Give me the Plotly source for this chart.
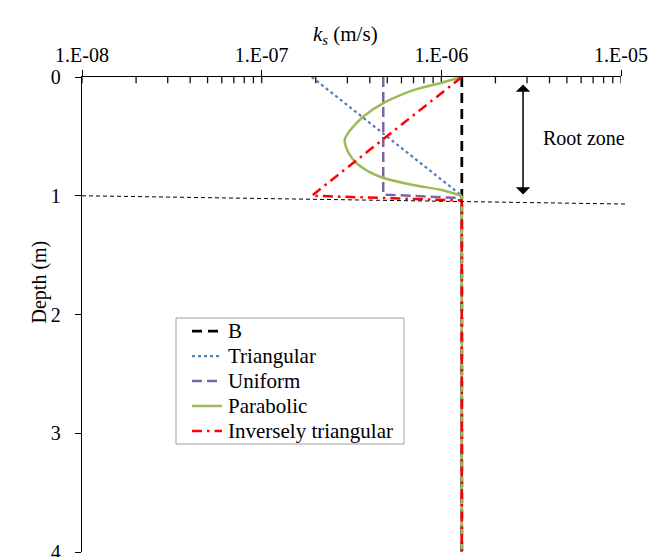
import math
import plotly.graph_objects as go

# Saturated hydraulic conductivity profiles, ks (m/s) versus depth (m)
SERIES_NAMES = ["B", "Triangular", "Uniform", "Parabolic", "Inversely triangular"]

B_DEPTH = [0.0, 4.0]
B_KS = [1.3e-6, 1.3e-6]

TRI_DEPTH = [0.0, 1.0, 4.0]
TRI_KS = [1.9e-7, 1.3e-6, 1.3e-6]

UNI_DEPTH = [0.0, 0.99, 1.02, 4.0]
UNI_KS = [4.75e-7, 4.75e-7, 1.3e-6, 1.3e-6]

PARA_DEPTH = [0.0, 0.05, 0.11, 0.22, 0.33, 0.45, 0.53, 0.64, 0.73, 0.84, 0.91, 0.95, 1.0, 4.0]
PARA_KS = [1.3e-6, 9.9e-7, 7.0e-7, 4.75e-7, 3.7e-7, 3.1e-7, 2.9e-7, 3.05e-7, 3.4e-7,
           4.55e-7, 7.0e-7, 9.9e-7, 1.3e-6, 1.3e-6]
PARA_CURVE_END = 12  # index where the curved root-zone part joins the vertical tail

INV_DEPTH = [0.0, 1.0, 1.04, 4.0]
INV_KS = [1.3e-6, 1.9e-7, 1.3e-6, 1.3e-6]

X_TICK_VALS = [1e-8, 1e-7, 1e-6, 1e-5]
X_TICK_TEXT = ["1.E-08", "1.E-07", "1.E-06", "1.E-05"]
Y_TICK_VALS = [0, 1, 2, 3, 4]

ROOT_ZONE_TOP = 0.05
ROOT_ZONE_BOTTOM = 0.99
ROOT_ARROW_KS = 2.85e-6
ROOT_LABEL_KS = 6.2e-6

FONT = "Liberation Serif"
W, H = 665, 557
ML, MR, MT, MB = 82, 44, 77, 5
PW, PH = W - ML - MR, H - MT - MB


def px_x(px):
    """Horizontal pixel position -> paper coordinate."""
    return (px - ML) / PW


def px_y(py):
    """Vertical pixel position -> paper coordinate."""
    return 1 - (py - MT) / PH


STYLES = [
    dict(color="black", width=2.75, dash="10px,6px"),
    dict(color="#4F81BD", width=2.25, dash="dot"),
    dict(color="#8064A2", width=2.5, dash="10px,5px"),
    dict(color="#9BBB59", width=2.5, dash="solid"),
    dict(color="#FF0000", width=2.5, dash="10px,5px,2.5px,5px"),
]

fig = go.Figure()

# short inward tick marks along the top axis: each decade and its 2..9 subdivisions.
# Markers sit on the axis line; clipping keeps only the half inside the plot.
INSIDE_X_TICKS = X_TICK_VALS + [m * 10.0 ** e for e in (-8, -7, -6) for m in range(2, 10)]
fig.add_trace(go.Scatter(
    x=INSIDE_X_TICKS, y=[0] * len(INSIDE_X_TICKS), mode="markers",
    marker=dict(symbol="line-ns-open", size=9, color="#111111",
                line=dict(color="#111111", width=1.3)),
    cliponaxis=True, showlegend=False, hoverinfo="skip",
))

fig.add_trace(go.Scatter(x=B_KS, y=B_DEPTH, name=SERIES_NAMES[0], mode="lines", line=STYLES[0]))
fig.add_trace(go.Scatter(x=TRI_KS, y=TRI_DEPTH, name=SERIES_NAMES[1], mode="lines", line=STYLES[1]))
fig.add_trace(go.Scatter(x=UNI_KS, y=UNI_DEPTH, name=SERIES_NAMES[2], mode="lines", line=STYLES[2]))
fig.add_trace(go.Scatter(
    x=PARA_KS[:PARA_CURVE_END + 1], y=PARA_DEPTH[:PARA_CURVE_END + 1],
    name=SERIES_NAMES[3], legendgroup=SERIES_NAMES[3], mode="lines",
    line=dict(STYLES[3], shape="spline", smoothing=0.9),
))
fig.add_trace(go.Scatter(
    x=PARA_KS[PARA_CURVE_END:], y=PARA_DEPTH[PARA_CURVE_END:],
    name=SERIES_NAMES[3], legendgroup=SERIES_NAMES[3], mode="lines",
    line=STYLES[3], showlegend=False,
))
fig.add_trace(go.Scatter(x=INV_KS, y=INV_DEPTH, name=SERIES_NAMES[4], mode="lines", line=STYLES[4]))

# thin dashed line marking the bottom of the root zone
fig.add_shape(type="line", xref="paper", yref="y",
              x0=0, y0=1.0, x1=px_x(627), y1=1.07,
              line=dict(color="black", width=1, dash="4px,3px"))

# double-headed arrow spanning the root zone
fig.add_annotation(
    x=math.log10(ROOT_ARROW_KS), y=ROOT_ZONE_BOTTOM,
    ax=math.log10(ROOT_ARROW_KS), ay=ROOT_ZONE_TOP,
    xref="x", yref="y", axref="x", ayref="y",
    text="", showarrow=True, arrowside="end+start",
    arrowhead=1, startarrowhead=1, arrowsize=1.6, startarrowsize=1.6,
    arrowwidth=1.5, arrowcolor="black",
)
fig.add_annotation(
    x=math.log10(ROOT_LABEL_KS), y=0.516, xref="x", yref="y",
    text="Root zone", showarrow=False,
    font=dict(family=FONT, size=20, color="black"),
)

# axis titles
fig.add_annotation(
    x=px_x(345), y=px_y(20), xref="paper", yref="paper",
    text="<i>k</i><sub><i>s</i></sub> (m/s)", showarrow=False,
    font=dict(family=FONT, size=21, color="black"),
)
fig.add_annotation(
    x=px_x(25), y=px_y(282), xref="paper", yref="paper",
    text="Depth (m)", textangle=-90, showarrow=False,
    font=dict(family=FONT, size=20, color="black"),
)

# legend box with line samples and labels
LEG_LEFT, LEG_RIGHT, LEG_TOP, LEG_BOTTOM = 176, 404, 318, 444
LEG_ROW0, LEG_ROW_STEP = 331, 25
LEG_SAMPLE_X0, LEG_SAMPLE_X1, LEG_TEXT_X = 192, 222, 226
fig.add_shape(type="rect", xref="paper", yref="paper",
              x0=px_x(LEG_LEFT), x1=px_x(LEG_RIGHT),
              y0=px_y(LEG_BOTTOM), y1=px_y(LEG_TOP),
              line=dict(color="#A0A0A0", width=1), fillcolor="white", layer="above")
for i, (name, style) in enumerate(zip(SERIES_NAMES, STYLES)):
    row_y = px_y(LEG_ROW0 + i * LEG_ROW_STEP)
    fig.add_shape(type="line", xref="paper", yref="paper",
                  x0=px_x(LEG_SAMPLE_X0), x1=px_x(LEG_SAMPLE_X1),
                  y0=row_y, y1=row_y, line=style, layer="above")
    fig.add_annotation(x=px_x(LEG_TEXT_X), y=row_y, xref="paper", yref="paper",
                       xanchor="left", yanchor="middle", text=name, showarrow=False,
                       font=dict(family=FONT, size=21, color="black"))

fig.update_layout(
    width=W, height=H,
    margin=dict(l=ML, r=MR, t=MT, b=MB, autoexpand=False),
    paper_bgcolor="white", plot_bgcolor="white",
    font=dict(family=FONT, size=20, color="black"),
    showlegend=False,
    xaxis=dict(
        type="log", range=[-8, -5], side="top", automargin=False,
        showline=True, linecolor="black", linewidth=1.3,
        showgrid=False, zeroline=False,
        tickmode="array", tickvals=X_TICK_VALS, ticktext=X_TICK_TEXT,
        ticks="outside", ticklen=6, tickwidth=1.3, tickcolor="black",
        ticklabelstandoff=0,
        tickfont=dict(family=FONT, size=20, color="black"),
    ),
    yaxis=dict(
        range=[4, 0], showline=True, linecolor="black", linewidth=1.3,
        showgrid=False, zeroline=False, automargin=False,
        tickvals=Y_TICK_VALS, ticks="outside", ticklen=6, tickwidth=1.3,
        tickcolor="black", ticklabelstandoff=10, ticklabeloverflow="allow",
        tickfont=dict(family=FONT, size=20, color="black"),
    ),
)

fig.write_html("out.html")
